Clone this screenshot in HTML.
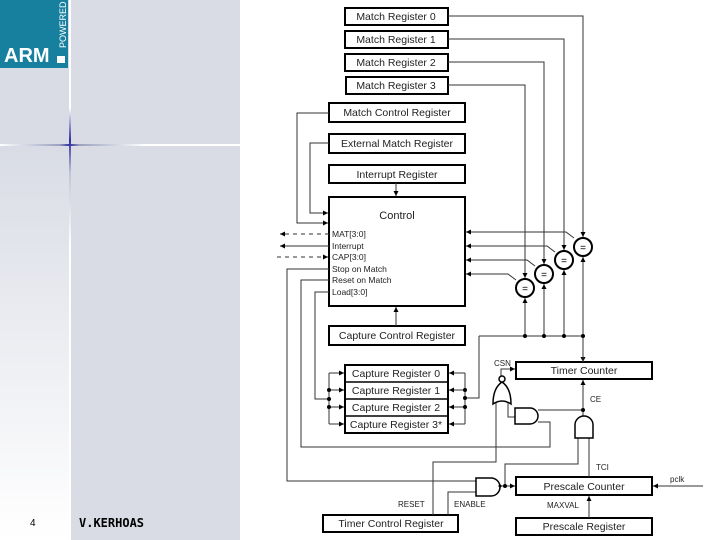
<!DOCTYPE html>
<html><head><meta charset="utf-8"><style>
html,body{margin:0;padding:0;background:#fff;}
body{width:720px;height:540px;position:relative;overflow:hidden;font-family:"Liberation Sans",sans-serif;}
</style></head><body>
<svg width="720" height="540" viewBox="0 0 720 540" xmlns="http://www.w3.org/2000/svg" style="position:absolute;left:0;top:0">
<defs>
<linearGradient id="lg" x1="0" y1="0" x2="0" y2="1"><stop offset="0" stop-color="#d9dce5"/><stop offset="1" stop-color="#ffffff"/></linearGradient>
<linearGradient id="hl" x1="0" y1="0" x2="1" y2="0"><stop offset="0" stop-color="#fff"/><stop offset="0.25" stop-color="#9aa0c0"/><stop offset="0.29" stop-color="#3030a0"/><stop offset="0.33" stop-color="#9aa0c0"/><stop offset="0.6" stop-color="#fff"/></linearGradient>
<linearGradient id="vl" x1="0" y1="0" x2="0" y2="1"><stop offset="0" stop-color="#fff"/><stop offset="0.2" stop-color="#fff"/><stop offset="0.26" stop-color="#3030a0"/><stop offset="0.32" stop-color="#c0c4d8"/><stop offset="0.45" stop-color="#fff"/></linearGradient>
<marker id="a" markerWidth="6" markerHeight="6" refX="5" refY="3" orient="auto" markerUnits="userSpaceOnUse"><path d="M0,0.5 L5,3 L0,5.5 z" fill="#000"/></marker>
</defs>
<rect x="0" y="0" width="240" height="540" fill="#d9dce5"/>
<rect x="0" y="146" width="69" height="394" fill="url(#lg)"/>
<rect x="0" y="0" width="68" height="68" fill="#17809f"/>
<text x="4" y="62" font-size="20" font-weight="bold" fill="#fff">ARM</text>
<rect x="57" y="56" width="8" height="7" fill="#fff"/>
<text x="0" y="0" font-size="9" fill="#fff" transform="translate(66,48) rotate(-90)">POWERED</text>
<rect x="69" y="0" width="2" height="540" fill="url(#vl)"/>
<rect x="0" y="144" width="240" height="2" fill="url(#hl)"/>
<text x="30" y="526" font-size="10" fill="#000">4</text>
<text x="79" y="527" font-size="12" font-weight="bold" fill="#000" font-family="'DejaVu Sans Mono',monospace">V.KERHOAS</text>

<g font-size="10.5" fill="#222" text-anchor="middle" stroke="none">
<g fill="#fff" stroke="#000" stroke-width="2">
<rect x="345" y="8" width="103" height="17"/>
<rect x="345" y="31" width="103" height="17"/>
<rect x="345" y="54" width="103" height="17"/>
<rect x="346" y="77" width="102" height="17"/>
<rect x="329" y="103" width="136" height="19"/>
<rect x="329" y="134" width="136" height="19"/>
<rect x="329" y="165" width="136" height="18"/>
<rect x="329" y="197" width="136" height="109"/>
<rect x="329" y="326" width="136" height="19"/>
<rect x="345" y="365" width="103" height="68"/>
<rect x="516" y="362" width="136" height="17"/>
<rect x="516" y="477" width="136" height="18"/>
<rect x="516" y="518" width="136" height="17"/>
<rect x="323" y="515" width="135" height="17"/>
</g>
<g stroke="#000" stroke-width="1.5"><line x1="345" y1="382" x2="448" y2="382"/><line x1="345" y1="399" x2="448" y2="399"/><line x1="345" y1="416" x2="448" y2="416"/></g>
<text x="396" y="20">Match Register 0</text>
<text x="396" y="43">Match Register 1</text>
<text x="396" y="66">Match Register 2</text>
<text x="396" y="89">Match Register 3</text>
<text x="397" y="116">Match Control Register</text>
<text x="397" y="147">External Match Register</text>
<text x="397" y="178">Interrupt Register</text>
<text x="397" y="219" font-size="11">Control</text>
<text x="397" y="339">Capture Control Register</text>
<text x="396" y="377">Capture Register 0</text>
<text x="396" y="394">Capture Register 1</text>
<text x="396" y="411">Capture Register 2</text>
<text x="396" y="428">Capture Register 3*</text>
<text x="584" y="374">Timer Counter</text>
<text x="584" y="490">Prescale Counter</text>
<text x="584" y="530">Prescale Register</text>
<text x="391" y="527">Timer Control Register</text>
</g>
<g font-size="8.5" fill="#222">
<text x="332" y="237">MAT[3:0]</text>
<text x="332" y="249">Interrupt</text>
<text x="332" y="260">CAP[3:0]</text>
<text x="332" y="272">Stop on Match</text>
<text x="332" y="283">Reset on Match</text>
<text x="332" y="295">Load[3:0]</text>
<text x="494" y="366" font-size="8">CSN</text>
<text x="590" y="402" font-size="8">CE</text>
<text x="596" y="470" font-size="8">TCI</text>
<text x="670" y="482" font-size="8">pclk</text>
<text x="398" y="507" font-size="8">RESET</text>
<text x="454" y="507" font-size="8">ENABLE</text>
<text x="547" y="508" font-size="8">MAXVAL</text>
</g>

<g fill="none" stroke="#333" stroke-width="1">
<!-- match reg lines -->
<polyline points="448,16 583,16 583,238"/>
<polyline points="448,39 564,39 564,251"/>
<polyline points="448,62 544,62 544,265"/>
<polyline points="448,85 525,85 525,279"/>
<polyline points="583,256 583,362" marker-end="url(#a)" stroke-width="0"/>
<line x1="583" y1="256" x2="583" y2="362"/>
<line x1="564" y1="269" x2="564" y2="336"/>
<line x1="544" y1="283" x2="544" y2="336"/>
<line x1="525" y1="297" x2="525" y2="336"/>
<line x1="479" y1="336" x2="583" y2="336"/>
<polyline points="479,336 479,398 465,398"/>
<!-- comparator outputs -->
<polyline points="574,238 566,232 466,232" marker-end="url(#a)"/>
<polyline points="555,252 547,246 466,246" marker-end="url(#a)"/>
<polyline points="535,266 527,260 466,260" marker-end="url(#a)"/>
<polyline points="516,280 508,274 466,274" marker-end="url(#a)"/>
<!-- MCR/EMR -->
<polyline points="329,113 297,113 297,223 328,223" marker-end="url(#a)"/>
<polyline points="329,143 310,143 310,213 328,213" marker-end="url(#a)"/>
<line x1="396" y1="183" x2="396" y2="196" marker-end="url(#a)"/>
<line x1="396" y1="326" x2="396" y2="307" marker-end="url(#a)"/>
<line x1="329" y1="234" x2="280" y2="234" stroke-dasharray="4,4" marker-end="url(#a)"/>
<line x1="329" y1="246" x2="280" y2="246" marker-end="url(#a)"/>
<line x1="277" y1="257" x2="328" y2="257" stroke-dasharray="4,4" marker-end="url(#a)"/>
<polyline points="329,269 287,269 287,481 476,481"/>
<polyline points="329,280 301,280 301,447 550,447 550,422 538,422"/>
<polyline points="329,292 315,292 315,399 329,399"/>
<!-- capture bus -->
<line x1="329" y1="373" x2="329" y2="424"/>
<line x1="329" y1="373" x2="344" y2="373" marker-end="url(#a)"/>
<line x1="329" y1="390" x2="344" y2="390" marker-end="url(#a)"/>
<line x1="329" y1="407" x2="344" y2="407" marker-end="url(#a)"/>
<line x1="329" y1="424" x2="344" y2="424" marker-end="url(#a)"/>
<line x1="465" y1="373" x2="465" y2="424"/>
<line x1="465" y1="373" x2="449" y2="373" marker-end="url(#a)"/>
<line x1="465" y1="390" x2="449" y2="390" marker-end="url(#a)"/>
<line x1="465" y1="407" x2="449" y2="407" marker-end="url(#a)"/>
<line x1="465" y1="424" x2="449" y2="424" marker-end="url(#a)"/>
<!-- gates wiring -->
<polyline points="501,376 501,369 515,369" marker-end="url(#a)"/>
<polyline points="508,403 508,417 515,417"/>
<polyline points="496,403 496,462 433,462 433,515"/>
<line x1="538" y1="410" x2="583" y2="410"/>
<line x1="583" y1="416" x2="583" y2="380" marker-end="url(#a)"/>
<polyline points="578,438 578,464 505,464 505,486"/>
<line x1="589" y1="438" x2="589" y2="477"/>
<polyline points="448,515 448,492 476,492"/>
<line x1="500" y1="486" x2="515" y2="486" marker-end="url(#a)"/>
<line x1="703" y1="486" x2="653" y2="486" marker-end="url(#a)"/>
<line x1="589" y1="518" x2="589" y2="496" marker-end="url(#a)"/>
</g>
<!-- arrows into comparators -->
<g fill="none" stroke="#333" stroke-width="1">
<line x1="583" y1="230" x2="583" y2="237" marker-end="url(#a)"/>
<line x1="564" y1="244" x2="564" y2="250" marker-end="url(#a)"/>
<line x1="544" y1="258" x2="544" y2="264" marker-end="url(#a)"/>
<line x1="525" y1="272" x2="525" y2="278" marker-end="url(#a)"/>
<line x1="583" y1="265" x2="583" y2="257" marker-end="url(#a)"/>
<line x1="564" y1="278" x2="564" y2="270" marker-end="url(#a)"/>
<line x1="544" y1="292" x2="544" y2="284" marker-end="url(#a)"/>
<line x1="525" y1="306" x2="525" y2="298" marker-end="url(#a)"/>
</g>
<g fill="#fff" stroke="#000" stroke-width="2">
<circle cx="583" cy="247" r="9"/><circle cx="564" cy="260" r="9"/><circle cx="544" cy="274" r="9"/><circle cx="525" cy="288" r="9"/>
</g>
<g font-size="10" text-anchor="middle" fill="#000"><text x="583" y="251">=</text><text x="564" y="264">=</text><text x="544" y="278">=</text><text x="525" y="292">=</text></g>
<!-- gates -->
<g fill="#fff" stroke="#000" stroke-width="1.5">
<path d="M493,404 Q502,398 511,404 Q511,388 502,382 Q493,388 493,404 Z"/>
<circle cx="502" cy="379" r="3"/>
<path d="M515,408 L530,408 A8,8 0 0 1 530,424 L515,424 Z"/>
<path d="M575,438 L575,425 A9,9 0 0 1 593,425 L593,438 Z"/>
<path d="M476,478 L491,478 A9,9 0 0 1 491,496 L476,496 Z"/>
</g>
<g fill="#000">
<circle cx="525" cy="336" r="2"/><circle cx="544" cy="336" r="2"/><circle cx="564" cy="336" r="2"/><circle cx="583" cy="336" r="2"/>
<circle cx="329" cy="390" r="2"/><circle cx="329" cy="399" r="2"/><circle cx="329" cy="407" r="2"/>
<circle cx="465" cy="390" r="2"/><circle cx="465" cy="398" r="2"/><circle cx="465" cy="407" r="2"/>
<circle cx="583" cy="410" r="2"/><circle cx="505" cy="486" r="2"/><circle cx="500" cy="486" r="1.5"/>
</g>
</svg>
</body></html>
